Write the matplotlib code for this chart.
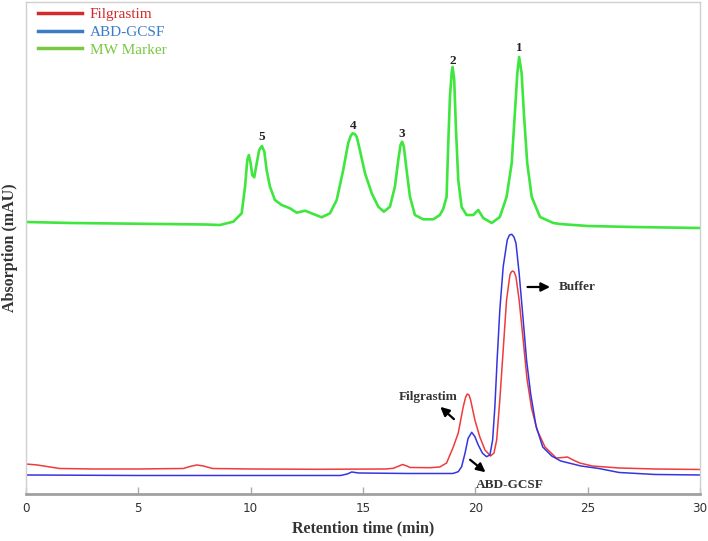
import matplotlib.pyplot as plt
from matplotlib.lines import Line2D

# retention time (min) and absorbance (arbitrary mAU)
marker_t = [0, 2, 4, 6, 8, 8.63, 9.23, 9.6, 9.75, 9.85, 9.92, 10.0, 10.07, 10.16,
            10.27, 10.38, 10.5, 10.61, 10.71, 10.86, 11.08, 11.38, 11.75, 12.05, 12.42,
            12.71, 13.16, 13.53, 13.83, 14.12, 14.34, 14.45, 14.54, 14.63, 14.72, 14.86,
            15.09, 15.39, 15.68, 15.93, 16.2, 16.42, 16.57, 16.67, 16.74, 16.82, 16.94,
            17.09, 17.31, 17.68, 18.13, 18.42, 18.57, 18.72, 18.79, 18.87, 18.95, 18.99,
            19.06, 19.14, 19.24, 19.39, 19.61, 19.91, 20.13, 20.35, 20.73, 21.09, 21.39,
            21.62, 21.76, 21.87, 21.95, 22.06, 22.16, 22.31, 22.51, 22.88, 23.47, 23.77,
            25, 27, 30]
marker_a = [272, 271, 270.5, 270, 269.5, 269, 272.3, 280.7, 307.3, 334, 339, 330.7, 319,
            316.7, 330.7, 344, 348, 342.3, 324, 307.3, 294, 289, 285.7, 281.3, 283.3,
            280.7, 276.7, 280.7, 294, 324, 350.7, 358, 360.7, 360, 357.3, 344,
            320.7, 300.7, 287.3, 282.3, 287.3, 307.3, 334, 349, 352.3, 347.3, 324,
            297.3, 279, 274.7, 274.7, 279, 285, 297, 347, 397, 422, 427,
            414, 364, 314, 287, 279, 279, 284, 276, 271, 277, 297,
            331, 381, 421, 437, 421, 381, 331, 297, 277, 271, 270,
            268, 267, 266]

abd_t = [0, 5, 10, 14.0, 14.3, 14.5, 14.8, 17, 19.0, 19.24, 19.39, 19.54, 19.68, 19.84,
         19.98, 20.13, 20.32, 20.5, 20.65, 20.77, 20.87, 20.97, 21.09, 21.24, 21.42,
         21.52, 21.62, 21.72, 21.81, 21.95, 22.13, 22.28, 22.46, 22.7, 23.0, 23.4, 23.8,
         24.7, 25.5, 26.4, 28, 30]
abd_a = [19, 18.5, 18.5, 18.5, 20, 22, 21, 20.5, 20.5, 22.3, 27.3, 40.7, 55.7, 61.7,
         57.3, 49, 40.7, 37.3, 39, 54, 87.3, 134, 184, 227.3, 254,
         259, 259.7, 257, 250.7, 220.7, 174, 134, 100.7, 68, 47, 38, 33,
         28, 25.5, 21.5, 19.5, 19]

filg_t = [0, 0.5, 1.5, 3, 5, 7.0, 7.3, 7.6, 7.9, 8.3, 10, 13, 16.0, 16.35, 16.6, 16.76,
          16.95, 17.09, 18.0, 18.42, 18.72, 19.02, 19.24, 19.46, 19.57, 19.64, 19.72,
          19.79, 19.98, 20.2, 20.43, 20.68, 20.83, 20.95, 21.09, 21.24, 21.39, 21.54,
          21.6, 21.66, 21.73, 21.81, 21.95, 22.13, 22.3, 22.5, 22.75, 23.1, 23.6, 23.9,
          24.1, 24.35, 24.65, 25.2, 26.4, 28, 30]
filg_a = [30, 29, 25.5, 25, 25, 25.5, 27.5, 29, 28, 25.5, 25, 24.7, 25, 25.7, 28, 29.5,
          28, 26.5, 26.3, 27, 31, 47, 61, 87, 97, 100, 99,
          94, 74, 57, 44, 38, 41, 54, 94, 144, 194, 219,
          222, 223, 222, 217, 194, 154, 115, 86, 64, 47, 36, 36.5,
          37, 34, 31, 28, 26, 25, 24.5]

peak_ids = ["1", "2", "3", "4", "5"]
peak_t = [21.94, 19.0, 16.73, 14.55, 10.5]
peak_a = [446, 433, 360, 368, 357]

series_names = ["Filgrastim", "ABD-GCSF", "MW Marker"]
legend_colors = ["#d42a2a", "#3b7cc4", "#78c841"]

fig = plt.figure(figsize=(7.08, 5.41), dpi=100)
ax = fig.add_axes([0.0367, 0.0869, 0.952, 0.9094])

ax.plot(marker_t, marker_a, color="#3ee63e", lw=1.9)
ax.plot(filg_t, filg_a, color="#ee3b3b", lw=1.1)
ax.plot(abd_t, abd_a, color="#3535e0", lw=1.1)

for lab, t, a in zip(peak_ids, peak_t, peak_a):
    ax.text(t, a, lab, ha="center", va="center", fontsize=9.5, fontweight="bold",
            family="Liberation Serif", color="#222222")

arrow = dict(arrowstyle="-|>", color="black", lw=1.6, mutation_scale=13)
ax.annotate("", xy=(23.45, 207), xytext=(22.2, 207), arrowprops=arrow)
ax.text(23.7, 207, "Buffer", ha="left", va="center", fontsize=9.5, fontweight="bold",
        family="Liberation Serif", color="#333333")
ax.annotate("", xy=(18.35, 89), xytext=(19.14, 73), arrowprops=arrow)
ax.text(17.9, 97, "Filgrastim", ha="center", va="center", fontsize=9.5, fontweight="bold",
        family="Liberation Serif", color="#333333")
ax.annotate("", xy=(20.55, 20), xytext=(19.67, 36), arrowprops=arrow)
ax.text(21.54, 9, "ABD-GCSF", ha="center", va="center", fontsize=9.5, fontweight="bold",
        family="Liberation Serif", color="#333333")

handles = [Line2D([], [], color=c, lw=2.5) for c in legend_colors]
leg = ax.legend(handles, series_names, loc="upper left", bbox_to_anchor=(-0.003, 1.017),
                frameon=False, handlelength=2.9, handletextpad=0.5, labelspacing=0.27,
                prop={"family": "Liberation Serif", "size": 11})
for txt, c in zip(leg.get_texts(), legend_colors):
    txt.set_color(c)

ax.set_xlim(0, 30)
ax.set_ylim(0, 492)
ax.set_xticks([0, 5, 10, 15, 20, 25, 30])
ax.set_yticks([])
ax.tick_params(axis="x", direction="in", length=5, width=1, color="#aaaaaa",
               labelsize=9.5, labelcolor="#333333", pad=6)
for lbl in ax.get_xticklabels():
    lbl.set_family("DejaVu Sans")
    lbl.set_fontstretch("condensed")

for side in ["left", "top", "right"]:
    ax.spines[side].set_color("#d0d0d0")
    ax.spines[side].set_linewidth(1)
ax.spines["bottom"].set_color("#a0a0a0")
ax.spines["bottom"].set_linewidth(2)

ax.set_xlabel("Retention time (min)", fontsize=11.5, fontweight="bold",
              family="Liberation Serif", color="#333333", labelpad=4)
ax.set_ylabel("Absorption (mAU)", fontsize=11.5, fontweight="bold",
              family="Liberation Serif", color="#333333", labelpad=6)

fig.savefig("out.png", dpi=100)
